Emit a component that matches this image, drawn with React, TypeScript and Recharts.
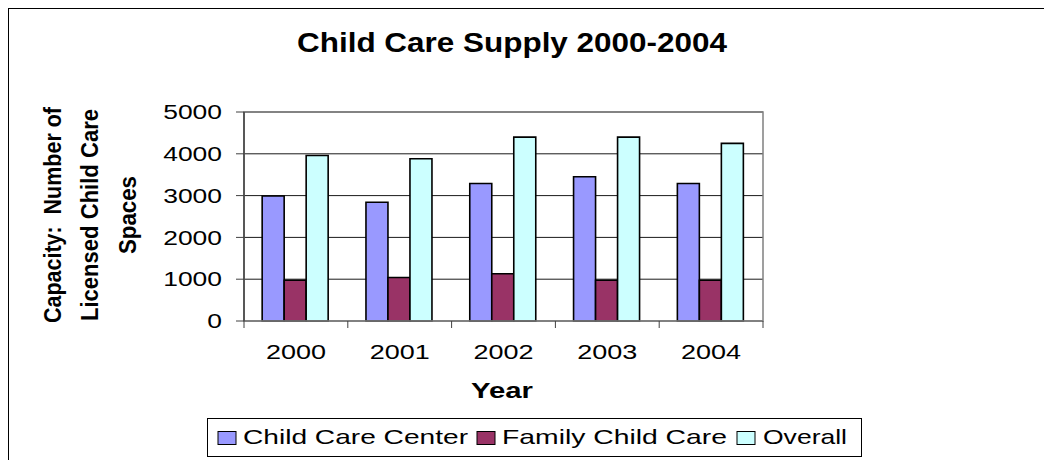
import React from 'react';
import { BarChart, Bar, XAxis, YAxis, CartesianGrid, Legend, ReferenceArea, Customized } from 'recharts';

const years = ['2000', '2001', '2002', '2003', '2004'];
const childCareCenter = [2990, 2840, 3290, 3450, 3290];
const familyChildCare = [975, 1040, 1130, 975, 975];
const overall = [3960, 3880, 4400, 4400, 4250];
const yTicks = [0, 1000, 2000, 3000, 4000, 5000];

const seriesNames = ['Child Care Center', 'Family Child Care', 'Overall'];
const seriesColors = ['#9999FF', '#993366', '#CCFFFF'];

const titleText = 'Child Care Supply 2000-2004';
const yLabelLines = ['Capacity:  Number of', 'Licensed Child Care', 'Spaces'];
const xLabelText = 'Year';

const FONT = '"Liberation Sans", Arial, sans-serif';

// fixed layout (chart coordinates)
const CHART_W = 1040;
const CHART_H = 449;
const PLOT_LEFT = 235;
const PLOT_TOP = 103;
const PLOT_W = 519;
const PLOT_H = 209;
const Y_AXIS_W = 80;
const X_AXIS_H = 40;
const BAND = PLOT_W / years.length;

const data = years.map((year, i) => ({
  year,
  center: childCareCenter[i],
  family: familyChildCare[i],
  overall: overall[i],
}));

const YTick = ({ x, y, payload }: any) => {
  const s = String(payload.value);
  return (
    <text
      x={x}
      y={y}
      dy="0.36em"
      textAnchor="end"
      fontFamily={FONT}
      fontSize={20}
      fill="#000"
      textLength={s.length * 14.7}
      lengthAdjust="spacingAndGlyphs"
    >
      {s}
    </text>
  );
};

const XTick = ({ x, payload, index }: any) => {
  const axisY = PLOT_TOP + PLOT_H;
  return (
    <g>
      <line x1={x - BAND / 2} y1={axisY} x2={x - BAND / 2} y2={axisY + 7} stroke="#404040" />
      {index === years.length - 1 && (
        <line x1={x + BAND / 2} y1={axisY} x2={x + BAND / 2} y2={axisY + 7} stroke="#404040" />
      )}
      <text
        x={x}
        y={350}
        textAnchor="middle"
        fontFamily={FONT}
        fontSize={20}
        fill="#000"
        textLength={60}
        lengthAdjust="spacingAndGlyphs"
      >
        {payload.value}
      </text>
    </g>
  );
};

const Labels = () => {
  const yLens = [216, 212, 78];
  const yBase = [52, 89, 127];
  return (
    <g fontFamily={FONT} fill="#000" fontWeight="bold">
      <text x={503} y={42.5} textAnchor="middle" fontSize={28} textLength={430} lengthAdjust="spacingAndGlyphs">
        {titleText}
      </text>
      <text x={493} y={389} textAnchor="middle" fontSize={22} textLength={62} lengthAdjust="spacingAndGlyphs">
        {xLabelText}
      </text>
      {yLabelLines.map((line, i) => (
        <text
          key={line}
          x={yBase[i]}
          y={206}
          transform={`rotate(-90 ${yBase[i]} 206)`}
          textAnchor="middle"
          fontSize={24}
          textLength={yLens[i]}
          lengthAdjust="spacingAndGlyphs"
          style={{ whiteSpace: 'pre' }}
        >
          {line}
        </text>
      ))}
    </g>
  );
};

const LegendBox = ({ payload }: any) => {
  const items = payload && payload.length ? payload : seriesNames.map((n, i) => ({ value: n, color: seriesColors[i] }));
  const squareX = [11, 270, 530];
  const textX = [36, 295, 556];
  const textLen = [225, 225, 84];
  return (
    <svg width={655} height={40} style={{ display: 'block' }}>
      <rect x={0.5} y={0.5} width={654} height={38} fill="#fff" stroke="#000" />
      {items.map((item: any, i: number) => (
        <g key={item.value}>
          <rect x={squareX[i]} y={13.5} width={18} height={13} fill={item.color} stroke="#000" />
          <text
            x={textX[i]}
            y={25.5}
            fontFamily={FONT}
            fontSize={21}
            fill="#000"
            textLength={textLen[i]}
            lengthAdjust="spacingAndGlyphs"
          >
            {item.value}
          </text>
        </g>
      ))}
    </svg>
  );
};

export default function App() {
  return (
    <div
      style={{
        margin: '-1px 0 0 -1px',
        width: 1045,
        height: 453,
        borderLeft: '2px solid #000',
        borderTop: '2px solid #000',
        background: '#fff',
      }}
    >
      <BarChart
        width={CHART_W}
        height={CHART_H}
        data={data}
        barCategoryGap="17.5%"
        barGap={0}
        margin={{
          top: PLOT_TOP,
          right: CHART_W - PLOT_LEFT - PLOT_W,
          bottom: CHART_H - PLOT_TOP - PLOT_H - X_AXIS_H,
          left: PLOT_LEFT - Y_AXIS_W,
        }}
      >
        <CartesianGrid vertical={false} stroke="#1a1a1a" strokeWidth={1} />
        <ReferenceArea y1={0} y2={5000} fill="none" fillOpacity={0} stroke="#808080" strokeWidth={1.5} />
        <XAxis
          dataKey="year"
          height={X_AXIS_H}
          interval={0}
          tickLine={false}
          axisLine={{ stroke: '#808080', strokeWidth: 1.5 }}
          tick={<XTick />}
        />
        <YAxis
          width={Y_AXIS_W}
          domain={[0, 5000]}
          ticks={yTicks}
          interval={0}
          tickSize={8}
          tickMargin={14}
          tickLine={{ stroke: '#404040' }}
          axisLine={{ stroke: '#404040', strokeWidth: 1.5 }}
          tick={<YTick />}
        />
        <Legend
          layout="horizontal"
          verticalAlign="middle"
          content={<LegendBox />}
          wrapperStyle={{ position: 'absolute', left: 198, top: 409, width: 655, height: 40 }}
        />
        <Bar dataKey="center" name={seriesNames[0]} fill={seriesColors[0]} stroke="#000" strokeWidth={1.6} isAnimationActive={false} />
        <Bar dataKey="family" name={seriesNames[1]} fill={seriesColors[1]} stroke="#000" strokeWidth={1.6} isAnimationActive={false} />
        <Bar dataKey="overall" name={seriesNames[2]} fill={seriesColors[2]} stroke="#000" strokeWidth={1.6} isAnimationActive={false} />
        <Customized component={<Labels />} />
      </BarChart>
    </div>
  );
}
